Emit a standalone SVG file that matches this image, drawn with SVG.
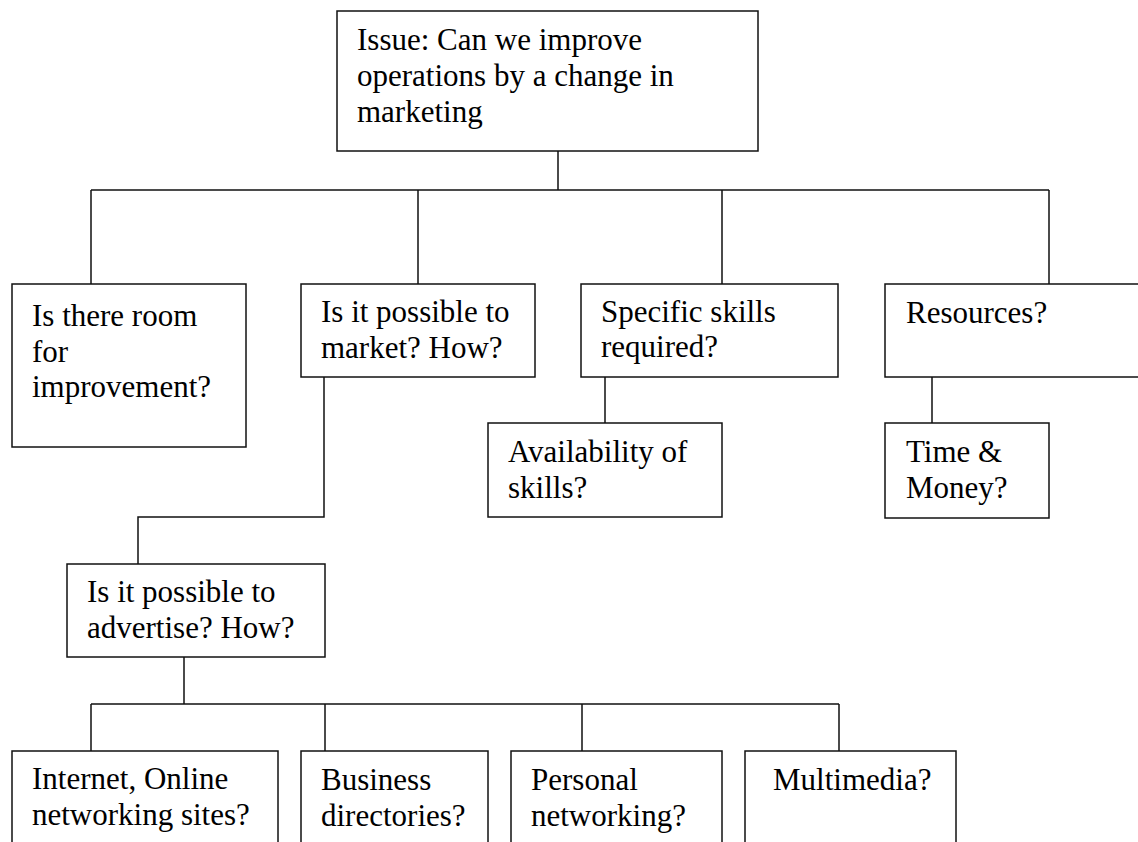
<svg xmlns="http://www.w3.org/2000/svg" width="1138" height="842" viewBox="0 0 1138 842">
<style>
.box{fill:#fff;stroke:#111;stroke-width:1.5}
.ln{fill:none;stroke:#111;stroke-width:1.5}
text{font-family:"Liberation Serif","Times New Roman",serif;font-size:31px;fill:#000}
</style>
<rect width="1138" height="842" fill="#fff"/>
<g id="connectors">
<path class="ln" d="M558 151V190M91 190H1049M91 190V284M418 190V284M722 190V284M1049 190V284"/>
<path class="ln" d="M324 377V517H138V564"/>
<path class="ln" d="M605 377V423M932 377V423"/>
<path class="ln" d="M184 657V704M91 704H839M91 704V751M325 704V751M582 704V751M839 704V751"/>
</g>
<g id="root"><rect class="box" x="337" y="11" width="421" height="140"/>
<text x="357" y="50">Issue: Can we improve</text><text x="357" y="86">operations by a change in</text><text x="357" y="122">marketing</text></g>
<g id="room"><rect class="box" x="12" y="284" width="234" height="163"/>
<text x="32" y="326">Is there room</text><text x="32" y="362">for</text><text x="32" y="397">improvement?</text></g>
<g id="market"><rect class="box" x="301" y="284" width="234" height="93"/>
<text x="321" y="322">Is it possible to</text><text x="321" y="358">market? How?</text></g>
<g id="skills"><rect class="box" x="581" y="284" width="257" height="93"/>
<text x="601" y="322">Specific skills</text><text x="601" y="357">required?</text></g>
<g id="resources"><rect class="box" x="885" y="284" width="280" height="93"/>
<text x="906" y="323">Resources?</text></g>
<g id="availability"><rect class="box" x="488" y="423" width="234" height="94"/>
<text x="508" y="462">Availability of</text><text x="508" y="498">skills?</text></g>
<g id="time"><rect class="box" x="885" y="423" width="164" height="95"/>
<text x="906" y="462">Time &amp;</text><text x="906" y="498">Money?</text></g>
<g id="advertise"><rect class="box" x="67" y="564" width="258" height="93"/>
<text x="87" y="602">Is it possible to</text><text x="87" y="638">advertise? How?</text></g>
<g id="internet"><rect class="box" x="12" y="751" width="266" height="120"/>
<text x="32" y="789">Internet, Online</text><text x="32" y="825">networking sites?</text></g>
<g id="business"><rect class="box" x="301" y="751" width="187" height="120"/>
<text x="321" y="790">Business</text><text x="321" y="826">directories?</text></g>
<g id="personal"><rect class="box" x="511" y="751" width="211" height="120"/>
<text x="531" y="790">Personal</text><text x="531" y="826">networking?</text></g>
<g id="multimedia"><rect class="box" x="745" y="751" width="211" height="120"/>
<text x="773" y="790">Multimedia?</text></g>
</svg>
